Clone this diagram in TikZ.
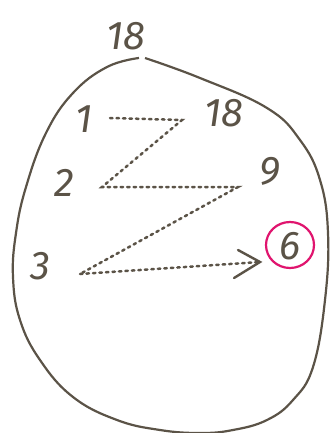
\documentclass[tikz,border=0pt]{standalone}
\usepackage{fontspec}
\setmainfont{Fira Sans}
\usetikzlibrary{arrows.meta,shapes.geometric}
\definecolor{pen}{HTML}{5B5347}
\definecolor{mag}{HTML}{E0146E}
\tikzset{
  num/.style={text=pen, font=\fontsize{40}{40}\selectfont\itshape\mdseries, inner sep=0pt},
  dotline/.style={draw=pen, line width=2.5pt, line cap=round, dash pattern=on 2.5pt off 4pt},
  outline/.style={draw=pen, line width=2.2pt},
}
\begin{document}
\begin{tikzpicture}[x=1pt,y=-1pt]
\useasboundingbox (0,0) rectangle (330,433);
\fill[white] (0,0) rectangle (330,433);
% oval
\draw[outline] plot[smooth, tension=0.7] coordinates {
 (145,58) (200,78) (267,108) (300,140) (320,180) (328,233) (325,300)
 (313,367) (293,400) (267,420) (233,430) (200,433) (160,430) (117,420)
 (73,397) (40,360) (20,320) (13,277) (16,233) (26,187) (46,133)
 (73,93) (107,67) (139,58)};
% numbers
\node[num] (top) at (126,36) {18};
\node[num] (a1) at (84,119) {1};
\node[num] (a2) at (64,183) {2};
\node[num] (a3) at (40,266) {3};
\node[num] (b1) at (224,113) {18};
\node[num] (b2) at (270,171) {9};
\node[num] (b3) at (290,246) {6};
\node[draw=mag, line width=2.2pt, ellipse, minimum width=48pt, minimum height=46pt] (ring) at (290,245) {};
% zigzag
\coordinate (p1) at (110,118);
\coordinate (p2) at (182,120);
\coordinate (p3) at (102,187);
\coordinate (p4) at (238,187);
\coordinate (p5) at (80,274);
\coordinate (p6) at (260,262);
\draw[dotline] (p1) -- (p2) -- (p3) -- (p4) -- (p5);
\draw[dotline] (p5) -- (p6);
\draw[draw=pen, line width=2.4pt, line cap=round] (238,250) -- (p6) -- (234,278);
\end{tikzpicture}
\end{document}
